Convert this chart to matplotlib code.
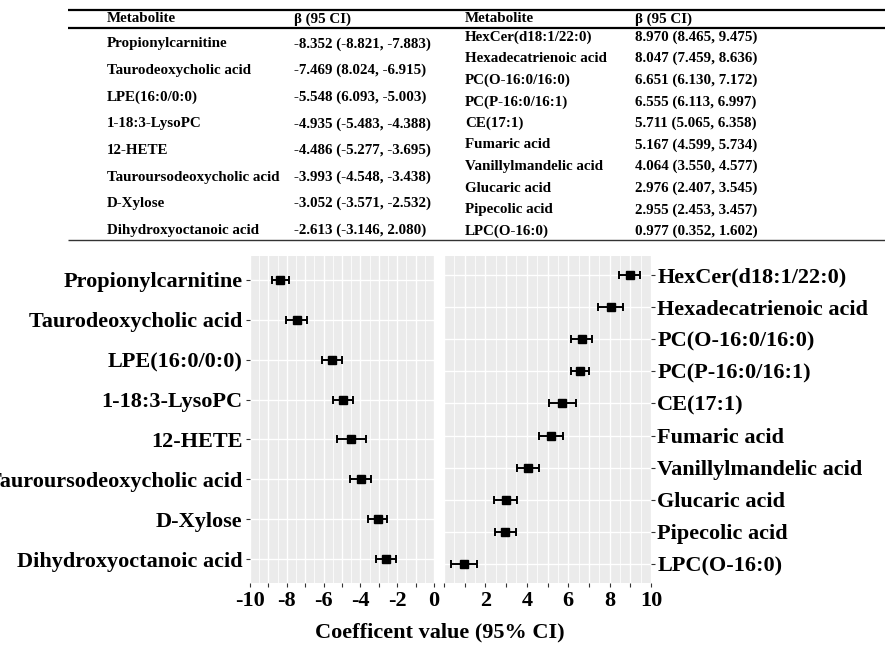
import matplotlib
matplotlib.use("Agg")
import matplotlib.pyplot as plt
import numpy as np

# ---------------- data ----------------
neg_names = ["Propionylcarnitine", "Taurodeoxycholic acid", "LPE(16:0/0:0)", "1-18:3-LysoPC",
             "12-HETE", "Tauroursodeoxycholic acid", "D-Xylose", "Dihydroxyoctanoic acid"]
neg_est = [-8.352, -7.469, -5.548, -4.935, -4.486, -3.993, -3.052, -2.613]
neg_lo = [-8.821, -8.024, -6.093, -5.483, -5.277, -4.548, -3.571, -3.146]
neg_hi = [-7.883, -6.915, -5.003, -4.388, -3.695, -3.438, -2.532, -2.080]
neg_text = ["-8.352 (-8.821, -7.883)", "-7.469 (8.024, -6.915)", "-5.548 (6.093, -5.003)",
            "-4.935 (-5.483, -4.388)", "-4.486 (-5.277, -3.695)", "-3.993 (-4.548, -3.438)",
            "-3.052 (-3.571, -2.532)", "-2.613 (-3.146, 2.080)"]

pos_names = ["HexCer(d18:1/22:0)", "Hexadecatrienoic acid", "PC(O-16:0/16:0)", "PC(P-16:0/16:1)",
             "CE(17:1)", "Fumaric acid", "Vanillylmandelic acid", "Glucaric acid",
             "Pipecolic acid", "LPC(O-16:0)"]
pos_est = [8.970, 8.047, 6.651, 6.555, 5.711, 5.167, 4.064, 2.976, 2.955, 0.977]
pos_lo = [8.465, 7.459, 6.130, 6.113, 5.065, 4.599, 3.550, 2.407, 2.453, 0.352]
pos_hi = [9.475, 8.636, 7.172, 6.997, 6.358, 5.734, 4.577, 3.545, 3.457, 1.602]
pos_text = ["8.970 (8.465, 9.475)", "8.047 (7.459, 8.636)", "6.651 (6.130, 7.172)",
            "6.555 (6.113, 6.997)", "5.711 (5.065, 6.358)", "5.167 (4.599, 5.734)",
            "4.064 (3.550, 4.577)", "2.976 (2.407, 3.545)", "2.955 (2.453, 3.457)",
            "0.977 (0.352, 1.602)"]

neg_ticks = [-10, -8, -6, -4, -2, 0]
pos_ticks = [2, 4, 6, 8, 10]
header = ["Metabolite", "\u03b2 (95 CI)"]
xlabel = "Coefficent value (95% CI)"

# ---------------- figure ----------------
W, H = 885, 646
plt.rcParams['font.family'] = ['Liberation Serif', 'DejaVu Serif']
plt.rcParams['font.weight'] = 'bold'
fig = plt.figure(figsize=(W / 100, H / 100), dpi=100)

# table layer in pixel coordinates
tab = fig.add_axes([0, 0, 1, 1], zorder=0)
tab.set_xlim(0, W)
tab.set_ylim(H, 0)
tab.axis('off')
for yline, lw in [(10, 1.6), (28, 1.6), (240, 1.0)]:
    tab.plot([68, W], [yline, yline], color='black' if lw > 1.2 else '#333333', lw=lw,
             solid_capstyle='butt')
tfs = 10.8
tab.text(107, 19, header[0], fontsize=tfs, fontweight='bold', va='center', ha='left')
tab.text(294, 19, header[1], fontsize=tfs, fontweight='bold', va='center', ha='left')
tab.text(465, 19, header[0], fontsize=tfs, fontweight='bold', va='center', ha='left')
tab.text(635, 19, header[1], fontsize=tfs, fontweight='bold', va='center', ha='left')
for i, (n, t) in enumerate(zip(neg_names, neg_text)):
    yy = 44 + 26.6 * i
    tab.text(107, yy, n, fontsize=tfs, fontweight='bold', va='center', ha='left')
    tab.text(294, yy, t, fontsize=tfs, fontweight='bold', va='center', ha='left')
for i, (n, t) in enumerate(zip(pos_names, pos_text)):
    yy = 37 + 21.6 * i
    tab.text(465, yy, n, fontsize=tfs, fontweight='bold', va='center', ha='left')
    tab.text(635, yy, t, fontsize=tfs, fontweight='bold', va='center', ha='left')

bg = '#EBEBEB'
top_px, bot_px = 256, 583


def panel(left_px, right_px, names, est, lo, hi, xlim, ticks, side):
    ax = fig.add_axes([left_px / W, 1 - bot_px / H, (right_px - left_px) / W,
                       (bot_px - top_px) / H], zorder=1)
    ax.set_facecolor(bg)
    n = len(names)
    y = np.arange(n)
    est = np.array(est); lo = np.array(lo); hi = np.array(hi)
    ax.errorbar(est, y, xerr=[est - lo, hi - est], fmt='s', color='black', ms=5.5,
                elinewidth=1.4, capsize=2.6, capthick=1.4, zorder=3)
    ax.set_xlim(*xlim)
    ax.set_ylim(n - 1 + 0.6, -0.6)
    major = np.arange(xlim[0], xlim[1] + 1, 1)
    ax.set_xticks(major)
    ax.set_xticklabels([str(int(v)) if v in ticks else '' for v in major])
    ax.set_xticks(np.arange(xlim[0] + 0.5, xlim[1], 1.0), minor=True)
    ax.set_yticks(y)
    ax.set_yticklabels(names)
    ax.grid(True, which='major', color='white', lw=1.0)
    ax.grid(True, which='minor', axis='x', color='white', lw=0.55)
    ax.set_axisbelow(True)
    for s in ax.spines.values():
        s.set_visible(False)
    ax.tick_params(axis='both', which='major', length=3, width=0.8, color='#333333',
                   labelsize=16, pad=2.5)
    ax.tick_params(axis='x', which='minor', length=0)
    if side == 'right':
        ax.yaxis.tick_right()
        ax.tick_params(axis='y', which='major', length=3, width=0.8, color='#333333',
                       labelsize=16, pad=1.5)
    for lab in ax.get_xticklabels() + ax.get_yticklabels():
        lab.set_fontweight('bold')
        lab.set_color('black')
    return ax


axL = panel(250, 434, neg_names, neg_est, neg_lo, neg_hi, (-10, 0), neg_ticks, 'left')
axR = panel(444, 651, pos_names, pos_est, pos_lo, pos_hi, (0, 10), pos_ticks, 'right')

fig.text(440 / W, 1 - 632 / H, xlabel, fontsize=16, fontweight='bold', ha='center', va='center')

fig.savefig('out.png', dpi=100)
